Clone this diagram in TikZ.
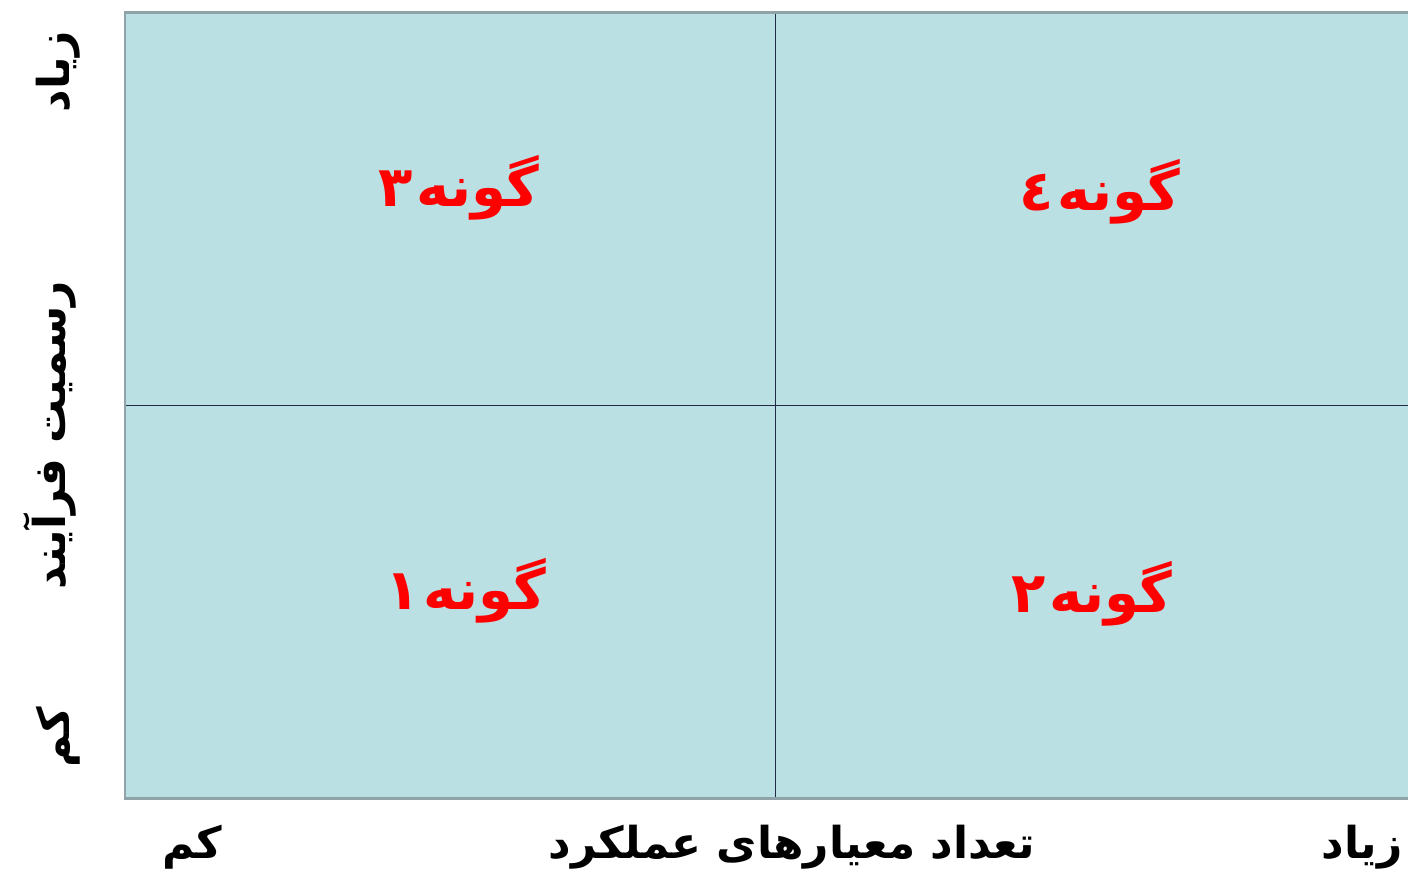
\documentclass[tikz,border=0pt]{standalone}
\usepackage{fontspec}
\newfontfamily\arabicfont[Script=Arabic]{DejaVu Sans}
\TeXXeTstate=1
\definecolor{cellfill}{HTML}{BAE0E4}
\definecolor{framegray}{HTML}{8FA3A8}
\definecolor{gridline}{HTML}{1F2A44}
\begin{document}
\begin{tikzpicture}[x=0.02cm, y=-0.02cm, inner sep=0pt,
  typelabel/.style={text=red, font=\arabicfont\bfseries\fontsize{32}{36}\selectfont},
  axislabel/.style={font=\arabicfont\bfseries\fontsize{25}{29}\selectfont}]
\useasboundingbox (0,0) rectangle (1408,877);
% quadrant field:
\fill[cellfill] (125,12) rectangle (1408,798);
\coordinate (midtop) at (775,12);
\coordinate (midbot) at (775,798);
\coordinate (midleft) at (125,405);
\coordinate (midright) at (1408,405);
\draw[gridline, line width=0.5pt] (midtop) -- (midbot);
\draw[gridline, line width=0.5pt] (midleft) -- (midright);
\draw[framegray, line width=1.7pt] (1408,12) -- (125,12) -- (125,798) -- (1408,798);
% quadrant types:
\node (t3) at (459,188) [typelabel] {\beginR گونه\kern2pt٣\endR};
\node (t4) at (1100,192) [typelabel] {\beginR گونه\kern2pt٤\endR};
\node (t1) at (466,591) [typelabel] {\beginR گونه\kern2pt١\endR};
\node (t2) at (1092,594) [typelabel] {\beginR گونه\kern2pt٢\endR};
% vertical axis:
\node (yhigh) at (58,72) [axislabel, rotate=90] {\beginR زیاد\endR};
\node (yname) at (50,435) [axislabel, rotate=90] {\beginR رسمیت فرآیند\endR};
\node (ylow) at (58,737) [axislabel, rotate=90] {\beginR کم\endR};
% horizontal axis:
\node (xlow) at (192,847) [axislabel] {\beginR کم\endR};
\node (xname) at (792,847) [axislabel] {\beginR تعداد معیارهای عملکرد\endR};
\node (xhigh) at (1362,847) [axislabel] {\beginR زیاد\endR};
\end{tikzpicture}
\end{document}
